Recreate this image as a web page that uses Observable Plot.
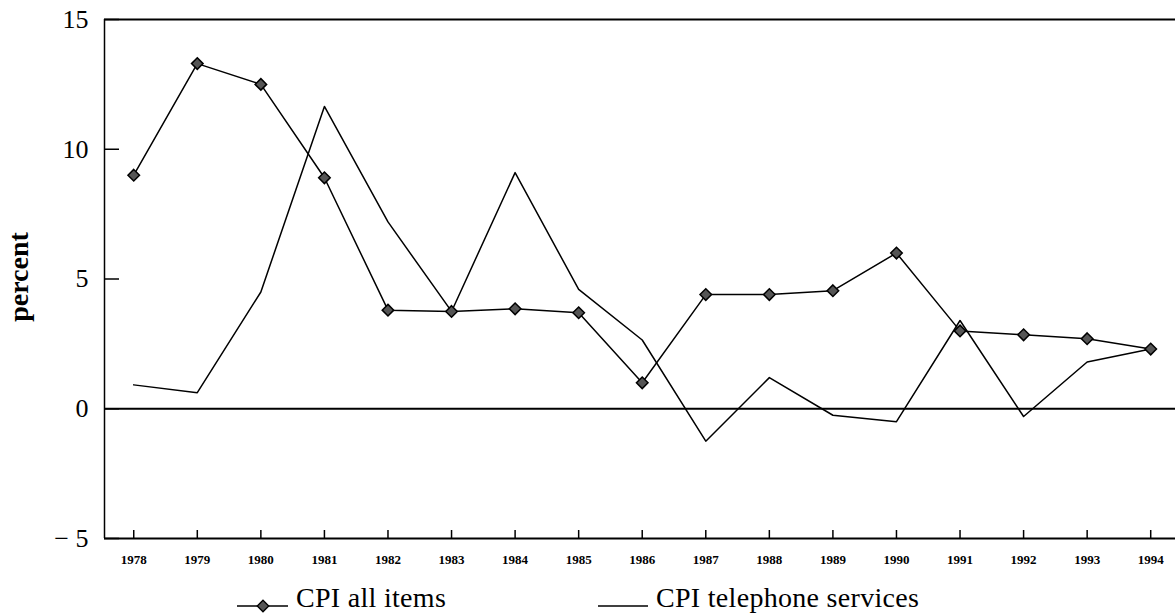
<!DOCTYPE html>
<html>
<head>
<meta charset="utf-8">
<script src="https://cdn.jsdelivr.net/npm/d3@7"></script>
<script src="https://cdn.jsdelivr.net/npm/@observablehq/plot@0.6"></script>
<style>
  html, body { margin: 0; padding: 0; background: #fff; }
  body { width: 1175px; height: 616px; overflow: hidden; color: #000; }
  #chart svg, #legend svg { display: block; }
</style>
</head>
<body>
<div id="chart"></div>
<div id="legend"></div>
<script>
// ---- data ----
const years = [1978, 1979, 1980, 1981, 1982, 1983, 1984, 1985, 1986, 1987, 1988, 1989, 1990, 1991, 1992, 1993, 1994];
const cpiAllItems = [9.0, 13.3, 12.5, 8.9, 3.8, 3.75, 3.85, 3.7, 1.0, 4.4, 4.4, 4.55, 6.0, 3.0, 2.85, 2.7, 2.3];
const cpiTelephone = [0.92, 0.62, 4.5, 11.65, 7.2, 3.75, 9.1, 4.6, 2.65, -1.25, 1.2, -0.25, -0.5, 3.4, -0.3, 1.8, 2.3];
const seriesNames = ["CPI all items", "CPI telephone services"];
const yTicks = [-5, 0, 5, 10, 15];
const yTickLabels = ["\u2212 5", "0", "5", "10", "15"];
const xTickLabels = years.map(String);
const yLabel = "percent";

// ---- chart ----
const xDomain = [1977.54, 1994.39];
const yDomain = [-5, 15];
const allRows = years.map((yr, i) => ({year: yr, value: cpiAllItems[i], series: seriesNames[0]}));
const telRows = years.map((yr, i) => ({year: yr, value: cpiTelephone[i], series: seriesNames[1]}));
const serif = "Liberation Serif";

const chart = Plot.plot({
  width: 1175,
  height: 575,
  marginLeft: 104,
  marginRight: 0,
  marginTop: 19,
  marginBottom: 37,
  style: {fontFamily: serif, background: "#fff", color: "#000", overflow: "visible"},
  x: {domain: xDomain},
  y: {domain: yDomain},
  marks: [
    Plot.ruleY(yTicks.filter(v => v === yDomain[0] || v === 0 || v === yDomain[1]), {stroke: "#000", strokeWidth: 2}),
    Plot.ruleX([xDomain[0]], {stroke: "#000", strokeWidth: 1.5}),
    Plot.axisY({
      ticks: yTicks,
      tickSize: -15,
      tickPadding: 31,
      tickFormat: d => yTickLabels[yTicks.indexOf(d)],
      fontSize: 26,
      strokeWidth: 1.5,
      label: null
    }),
    Plot.axisX({
      ticks: years,
      tickSize: -8,
      tickPadding: 24,
      tickFormat: d => xTickLabels[years.indexOf(d)],
      fontSize: 13,
      fontWeight: "bold",
      strokeWidth: 1.5,
      label: null
    }),
    Plot.text([yLabel], {frameAnchor: "left", textAnchor: "middle", dx: -85, dy: -2, rotate: -90, fontSize: 28, fontWeight: "bold", text: d => d}),
    Plot.line(telRows, {x: "year", y: "value", stroke: "#000", strokeWidth: 1.5}),
    Plot.line(allRows, {x: "year", y: "value", stroke: "#000", strokeWidth: 1.5}),
    Plot.dot(allRows, {x: "year", y: "value", symbol: "diamond2", r: 5.2, fill: "#555", stroke: "#000", strokeWidth: 1.5})
  ]
});
document.getElementById("chart").appendChild(chart);

// ---- legend (below the plot SVG) ----
const legendItems = [
  {name: seriesNames[0], left: 236, lineW: 52, marker: true},
  {name: seriesNames[1], left: 597, lineW: 51, marker: false}
];
const lsvg = d3.select("#legend").append("svg")
  .attr("width", 1175).attr("height", 41)
  .attr("font-family", serif);
const g = lsvg.selectAll("g").data(legendItems).join("g")
  .attr("transform", d => `translate(${d.left},0)`);
g.append("line")
  .attr("x1", 1).attr("x2", d => d.lineW)
  .attr("y1", 31).attr("y2", 31)
  .attr("stroke", "#000").attr("stroke-width", 1.5);
g.filter(d => d.marker).append("path")
  .attr("transform", d => `translate(${d.lineW / 2 + 1},31)`)
  .attr("d", d3.symbol(d3.symbolDiamond2, Math.PI * 5.2 * 5.2))
  .attr("fill", "#555").attr("stroke", "#000").attr("stroke-width", 1.3);
g.append("text")
  .attr("x", d => d.lineW + 8).attr("y", 32)
  .attr("font-size", 28)
  .attr("letter-spacing", 0.3)
  .attr("fill", "#000")
  .text(d => d.name);
</script>
</body>
</html>
